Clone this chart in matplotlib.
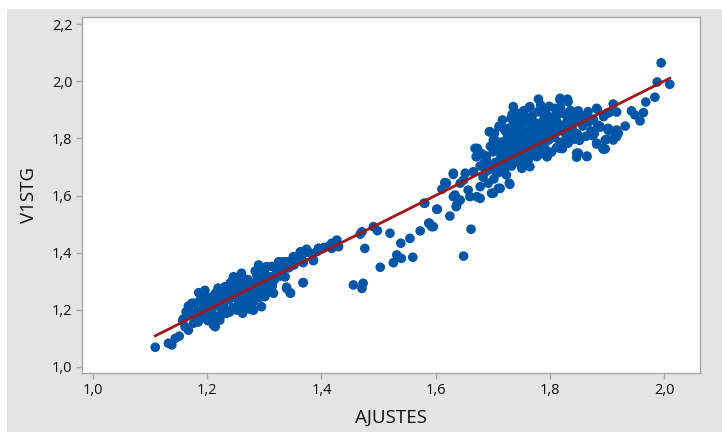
import matplotlib
matplotlib.use("Agg")
import matplotlib.pyplot as plt
from matplotlib.patches import Rectangle
from matplotlib.ticker import FuncFormatter, FixedLocator
import numpy as np

plt.rcParams['font.family'] = ['Open Sans', 'DejaVu Sans']

# ---- data (fitted values vs observed) ----
low_x = [1.109, 1.132, 1.138, 1.144, 1.151, 1.157, 1.161, 1.167, 1.176, 1.182, 1.185, 1.173, 1.170,
         1.190, 1.196, 1.205, 1.211, 1.214, 1.222, 1.234, 1.208, 1.217, 1.231, 1.240, 1.246, 1.260,
         1.252, 1.260, 1.278, 1.281, 1.295, 1.301, 1.310, 1.304, 1.290, 1.304, 1.325, 1.339, 1.351,
         1.365, 1.374, 1.395, 1.368, 1.386, 1.336, 1.368, 1.339, 1.345, 1.316]
low_y = [1.069, 1.083, 1.077, 1.100, 1.108, 1.162, 1.141, 1.129, 1.153, 1.170, 1.260, 1.223, 1.193,
         1.182, 1.199, 1.174, 1.147, 1.141, 1.164, 1.188, 1.234, 1.258, 1.281, 1.293, 1.316, 1.328,
         1.199, 1.217, 1.234, 1.199, 1.211, 1.246, 1.263, 1.287, 1.357, 1.351, 1.368, 1.368, 1.386,
         1.403, 1.409, 1.415, 1.368, 1.374, 1.316, 1.295, 1.275, 1.260, 1.258]

lowc_x = [1.183, 1.178, 1.192, 1.187, 1.194, 1.203, 1.198, 1.205, 1.212, 1.208, 1.214,
          1.223, 1.218, 1.225, 1.221, 1.232, 1.228, 1.235, 1.231, 1.243, 1.238, 1.245, 1.241,
          1.252, 1.248, 1.255, 1.251, 1.257, 1.263, 1.258, 1.265, 1.261, 1.267,
          1.272, 1.268, 1.275, 1.271, 1.277, 1.283, 1.278, 1.285, 1.281, 1.287,
          1.292, 1.288, 1.295, 1.291, 1.302, 1.298, 1.305, 1.301, 1.312, 1.308, 1.314,
          1.322, 1.318, 1.332, 1.327, 1.343, 1.352,
          1.172, 1.167, 1.158, 1.163, 1.184, 1.193, 1.201, 1.213, 1.226, 1.239, 1.262, 1.274,
          1.219, 1.207, 1.196, 1.244, 1.254, 1.284, 1.294, 1.313, 1.324, 1.338, 1.356, 1.367,
          1.381, 1.392, 1.404, 1.413, 1.423,
          1.225, 1.235, 1.245, 1.255, 1.265, 1.275, 1.285, 1.230, 1.240, 1.250, 1.260, 1.270,
          1.215, 1.205, 1.195, 1.255, 1.265, 1.275]
lowc_y = [1.194, 1.223, 1.203, 1.232, 1.246, 1.214, 1.187, 1.238, 1.224, 1.196, 1.257,
          1.233, 1.214, 1.186, 1.252, 1.244, 1.216, 1.268, 1.203, 1.254, 1.234, 1.207, 1.283,
          1.264, 1.243, 1.218, 1.287, 1.204, 1.273, 1.248, 1.226, 1.297, 1.213,
          1.284, 1.257, 1.236, 1.306, 1.224, 1.292, 1.266, 1.247, 1.228, 1.318,
          1.303, 1.277, 1.258, 1.243, 1.306, 1.287, 1.268, 1.327, 1.316, 1.297, 1.284,
          1.334, 1.306, 1.343, 1.318, 1.347, 1.357,
          1.184, 1.213, 1.168, 1.193, 1.157, 1.173, 1.162, 1.178, 1.184, 1.192, 1.188, 1.203,
          1.276, 1.244, 1.268, 1.302, 1.313, 1.336, 1.348, 1.352, 1.357, 1.368, 1.384, 1.393,
          1.398, 1.404, 1.418, 1.423, 1.427,
          1.235, 1.245, 1.255, 1.265, 1.275, 1.285, 1.295, 1.260, 1.270, 1.280, 1.290, 1.300,
          1.235, 1.225, 1.215, 1.235, 1.245, 1.255]

mid_x = [1.332, 1.336, 1.339, 1.346, 1.368, 1.368, 1.386, 1.351, 1.363, 1.374, 1.395, 1.403, 1.418,
         1.418, 1.427, 1.430, 1.456, 1.473, 1.471, 1.468, 1.471, 1.476, 1.491, 1.498, 1.503, 1.520,
         1.526, 1.532, 1.540, 1.539, 1.555, 1.560, 1.573, 1.589, 1.596, 1.580, 1.603, 1.625, 1.649,
         1.662, 1.611, 1.619, 1.631, 1.637, 1.678, 1.701, 1.593, 1.588, 1.602, 1.581, 1.631, 1.636,
         1.643, 1.649, 1.660]
mid_y = [1.368, 1.316, 1.279, 1.258, 1.295, 1.365, 1.372, 1.384, 1.403, 1.412, 1.415, 1.415, 1.433,
         1.415, 1.444, 1.421, 1.287, 1.293, 1.275, 1.465, 1.473, 1.415, 1.491, 1.477, 1.349, 1.468,
         1.365, 1.392, 1.380, 1.433, 1.450, 1.384, 1.476, 1.503, 1.491, 1.573, 1.552, 1.528, 1.388,
         1.482, 1.622, 1.643, 1.596, 1.567, 1.590, 1.608, 1.491, 1.503, 1.552, 1.573, 1.674, 1.561,
         1.584, 1.654, 1.596]

high_x = [1.995, 1.988, 2.010, 1.984, 1.968, 1.964, 1.958, 1.943, 1.949, 1.932, 1.911, 1.917, 1.904,
          1.920, 1.905, 1.900, 1.914, 1.888, 1.893, 1.882, 1.875, 1.883, 1.894, 1.867, 1.850, 1.862,
          1.876, 1.850, 1.865, 1.830, 1.847, 1.838, 1.824, 1.818, 1.831, 1.809, 1.847, 1.897, 1.874,
          1.902, 1.917, 1.780, 1.818, 1.832, 1.765, 1.736, 1.748, 1.732, 1.716, 1.695, 1.701, 1.673,
          1.672, 1.689, 1.692, 1.666, 1.652, 1.631, 1.616, 1.643, 1.634, 1.657, 1.672, 1.678, 1.710,
          1.730, 1.724, 1.751, 1.754, 1.777, 1.795, 1.818, 1.847, 1.865, 1.835, 1.876, 1.882, 1.894,
          1.897, 1.911, 1.917, 1.888, 1.902, 1.865, 1.847, 1.882, 1.900, 1.812, 1.795, 1.771, 1.669,
          1.675, 1.671, 1.694, 1.704, 1.716, 1.698, 1.713, 1.729, 1.707, 1.689, 1.724, 1.748, 1.765,
          1.754, 1.795]
high_y = [2.064, 1.997, 1.989, 1.944, 1.927, 1.890, 1.861, 1.896, 1.882, 1.843, 1.920, 1.892, 1.890,
          1.818, 1.829, 1.797, 1.806, 1.839, 1.764, 1.780, 1.809, 1.902, 1.876, 1.893, 1.896, 1.878,
          1.867, 1.748, 1.738, 1.934, 1.860, 1.818, 1.783, 1.934, 1.937, 1.905, 1.734, 1.763, 1.815,
          1.829, 1.806, 1.937, 1.940, 1.928, 1.911, 1.911, 1.878, 1.870, 1.839, 1.823, 1.794, 1.765,
          1.736, 1.724, 1.689, 1.683, 1.678, 1.678, 1.645, 1.643, 1.602, 1.619, 1.596, 1.631, 1.625,
          1.639, 1.672, 1.695, 1.730, 1.736, 1.736, 1.765, 1.748, 1.736, 1.806, 1.812, 1.783, 1.762,
          1.794, 1.794, 1.829, 1.841, 1.835, 1.876, 1.893, 1.905, 1.888, 1.899, 1.882, 1.853, 1.765,
          1.753, 1.736, 1.823, 1.794, 1.841, 1.608, 1.625, 1.643, 1.678, 1.689, 1.724, 1.736, 1.701,
          1.724, 1.736]

highc_x = [1.683, 1.678, 1.686, 1.681,
           1.692, 1.688, 1.694, 1.689, 1.696,
           1.702, 1.698, 1.705, 1.701, 1.707, 1.703,
           1.712, 1.708, 1.714, 1.709, 1.716, 1.711,
           1.721, 1.718, 1.724, 1.719, 1.726, 1.722, 1.717,
           1.733, 1.728, 1.735, 1.731, 1.737, 1.729, 1.734,
           1.742, 1.739, 1.745, 1.741, 1.747, 1.738, 1.744,
           1.752, 1.749, 1.755, 1.751, 1.757, 1.748, 1.754,
           1.763, 1.758, 1.765, 1.761, 1.767, 1.759, 1.764,
           1.772, 1.768, 1.774, 1.771, 1.776, 1.769,
           1.783, 1.778, 1.785, 1.781, 1.787, 1.779, 1.784,
           1.792, 1.789, 1.794, 1.791, 1.796, 1.788,
           1.803, 1.798, 1.805, 1.801, 1.807, 1.799,
           1.812, 1.808, 1.814, 1.811, 1.816,
           1.822, 1.818, 1.825, 1.821, 1.827, 1.819,
           1.832, 1.829, 1.834, 1.831, 1.836,
           1.843, 1.839, 1.845, 1.841,
           1.852, 1.848, 1.855, 1.851,
           1.863, 1.858, 1.865,
           1.872, 1.868,
           1.878, 1.884,
           1.745, 1.755, 1.765, 1.775, 1.785, 1.795, 1.805, 1.815, 1.760, 1.770, 1.780, 1.790,
           1.800, 1.810, 1.750, 1.740, 1.730, 1.720, 1.785, 1.795, 1.805, 1.815, 1.825, 1.835,
           1.770, 1.760, 1.740, 1.750, 1.760, 1.790]
highc_y = [1.664, 1.703, 1.718, 1.746,
           1.643, 1.684, 1.707, 1.738, 1.772,
           1.658, 1.694, 1.716, 1.753, 1.776, 1.818,
           1.682, 1.697, 1.734, 1.762, 1.787, 1.842,
           1.694, 1.716, 1.743, 1.774, 1.806, 1.826, 1.864,
           1.703, 1.726, 1.757, 1.784, 1.812, 1.836, 1.884,
           1.716, 1.744, 1.764, 1.793, 1.818, 1.856, 1.887,
           1.712, 1.736, 1.774, 1.803, 1.826, 1.865, 1.896,
           1.727, 1.754, 1.783, 1.806, 1.844, 1.873, 1.907,
           1.744, 1.757, 1.793, 1.816, 1.853, 1.878,
           1.746, 1.774, 1.804, 1.827, 1.858, 1.893, 1.916,
           1.763, 1.776, 1.813, 1.838, 1.874, 1.897,
           1.752, 1.794, 1.817, 1.854, 1.876, 1.912,
           1.768, 1.803, 1.826, 1.864, 1.887,
           1.764, 1.786, 1.823, 1.846, 1.884, 1.906,
           1.783, 1.806, 1.843, 1.866, 1.897,
           1.797, 1.834, 1.857, 1.886,
           1.793, 1.816, 1.854, 1.877,
           1.807, 1.843, 1.866,
           1.826, 1.857,
           1.817, 1.846,
           1.800, 1.790, 1.795, 1.805, 1.815, 1.825, 1.835, 1.845, 1.820, 1.830, 1.840, 1.850,
           1.860, 1.870, 1.810, 1.780, 1.770, 1.760, 1.795, 1.805, 1.815, 1.825, 1.835, 1.855,
           1.780, 1.770, 1.830, 1.850, 1.860, 1.880]

ajustes = np.array(low_x + lowc_x + mid_x + high_x + highc_x)
v1stg = np.array(low_y + lowc_y + mid_y + high_y + highc_y)

x_ticks = [1.0, 1.2, 1.4, 1.6, 1.8, 2.0]
y_ticks = [1.0, 1.2, 1.4, 1.6, 1.8, 2.0, 2.2]

# ---- figure ----
W, H = 722, 434
fig = plt.figure(figsize=(W / 100, H / 100), dpi=100, facecolor='white')
bg = Rectangle((7 / W, 2 / H), 1 - 7 / W, (H - 11) / H,
               transform=fig.transFigure, facecolor='#e4e4e4',
               edgecolor='none', zorder=-10)
fig.patches.append(bg)

ax = fig.add_axes([82 / W, (H - 373) / H, (700 - 82) / W, (373 - 17) / H])
ax.set_zorder(5)
ax.set_facecolor('white')

ax.scatter(ajustes, v1stg, s=48, color='#0056a6', edgecolors='none', zorder=3)
xmin, xmax = ajustes.min(), ajustes.max()
ax.plot([xmin, xmax], [xmin, xmax], color='#a0171b', lw=2, zorder=4)

ax.set_xlim(0.9807, 2.063)
ax.set_ylim(0.979, 2.2245)
ax.xaxis.set_major_locator(FixedLocator(x_ticks))
ax.yaxis.set_major_locator(FixedLocator(y_ticks))
fmt = FuncFormatter(lambda v, p: f"{v:.1f}".replace('.', ','))
ax.xaxis.set_major_formatter(fmt)
ax.yaxis.set_major_formatter(fmt)

for s in ax.spines.values():
    s.set_color('#a8a8a8')
    s.set_linewidth(1)
ax.tick_params(axis='both', direction='out', length=4, width=1, color='#a8a8a8',
               labelsize=10.5, labelcolor='#111111', pad=3)

ax.set_xlabel('AJUSTES', fontsize=13.5, color='#111111', labelpad=8)
ax.set_ylabel('V1STG', fontsize=13.5, color='#111111', labelpad=10)

fig.savefig('out.png', dpi=100, facecolor=fig.get_facecolor())
